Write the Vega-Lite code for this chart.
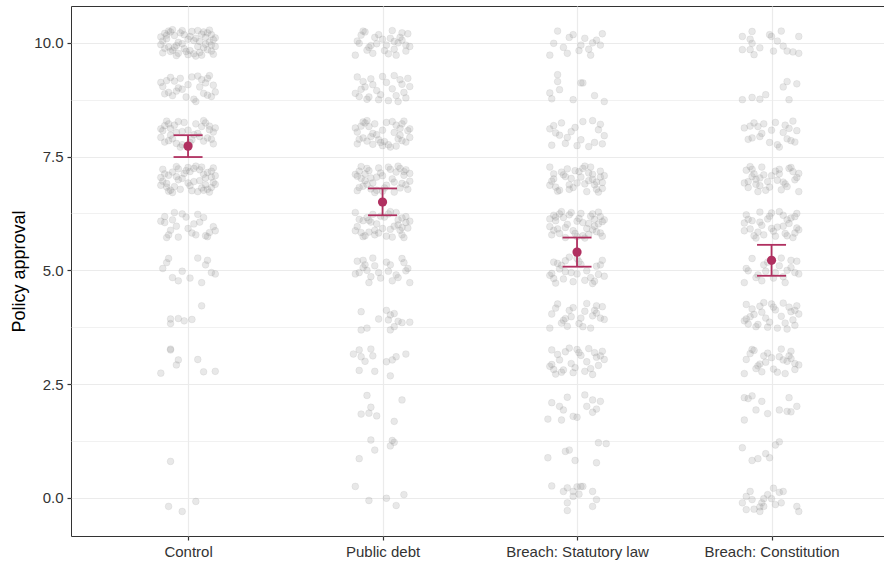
{
  "$schema": "https://vega.github.io/schema/vega-lite/v6.json",
  "autosize": {"type": "none"},
  "width": 813,
  "height": 530,
  "padding": {"left": 71, "top": 6, "right": 0, "bottom": 27},
  "background": "white",
  "config": {
    "view": {"stroke": "#333333", "strokeWidth": 1},
    "font": "Liberation Sans",
    "axis": {
      "labelFont": "Liberation Sans",
      "titleFont": "Liberation Sans",
      "labelColor": "#4d4d4d",
      "tickColor": "#333333",
      "gridColor": "#ebebeb",
      "gridWidth": 1.2,
      "domain": false
    }
  },
  "datasets": {
    "summ": [
      {"g": "C", "mean": 7.73, "lo": 7.49, "hi": 7.97},
      {"g": "P", "mean": 6.50, "lo": 6.21, "hi": 6.80},
      {"g": "S", "mean": 5.40, "lo": 5.08, "hi": 5.72},
      {"g": "K", "mean": 5.22, "lo": 4.88, "hi": 5.56}
    ],
    "pts": [
      {"g":"C","y":10.21,"j":-0.12},{"g":"C","y":9.92,"j":0.05},{"g":"C","y":10.27,"j":-0.03},{"g":"C","y":10.02,"j":0.11},{"g":"C","y":9.81,"j":-0.09},{"g":"C","y":9.75,"j":0.13},{"g":"C","y":10.14,"j":0.01},{"g":"C","y":9.96,"j":-0.14},
      {"g":"C","y":10.24,"j":0.08},{"g":"C","y":9.72,"j":-0.06},{"g":"C","y":10.05,"j":0.03},{"g":"C","y":10.18,"j":0.12},{"g":"C","y":10.09,"j":-0.11},{"g":"C","y":9.79,"j":0.06},{"g":"C","y":9.87,"j":-0.02},{"g":"C","y":10.11,"j":0.14},
      {"g":"C","y":10.29,"j":-0.08},{"g":"C","y":9.97,"j":0.09},{"g":"C","y":9.78,"j":-0.13},{"g":"C","y":9.74,"j":0},{"g":"C","y":10.19,"j":0.07},{"g":"C","y":10.01,"j":-0.05},{"g":"C","y":9.85,"j":0.10},{"g":"C","y":9.91,"j":-0.10},
      {"g":"C","y":10.25,"j":0.02},{"g":"C","y":10.16,"j":-0.07},{"g":"C","y":10.07,"j":0.13},{"g":"C","y":9.81,"j":-0.01},{"g":"C","y":9.71,"j":0.04},{"g":"C","y":9.88,"j":-0.12},{"g":"C","y":10.28,"j":0.11},{"g":"C","y":10.22,"j":-0.04},
      {"g":"C","y":9.89,"j":0.08},{"g":"C","y":10.13,"j":-0.14},{"g":"C","y":10.08,"j":0},{"g":"C","y":10.03,"j":0.06},{"g":"C","y":10.24,"j":-0.09},{"g":"C","y":9.82,"j":0.12},{"g":"C","y":9.94,"j":-0.06},{"g":"C","y":9.76,"j":0.03},
      {"g":"C","y":10.17,"j":-0.11},{"g":"C","y":10.12,"j":0.09},{"g":"C","y":9.98,"j":-0.03},{"g":"C","y":9.92,"j":0.14},{"g":"C","y":10.04,"j":-0.13},{"g":"C","y":10.27,"j":0.05},{"g":"C","y":9.84,"j":-0.08},{"g":"C","y":10.22,"j":0.10},
      {"g":"C","y":9.83,"j":0.01},{"g":"C","y":9.77,"j":-0.05},{"g":"C","y":9.73,"j":0.07},{"g":"C","y":10.26,"j":-0.10},{"g":"C","y":9.95,"j":0.12},{"g":"C","y":10.18,"j":-0.02},{"g":"C","y":10.10,"j":0.04},{"g":"C","y":9.90,"j":-0.07},

      {"g":"C","y":9.19,"j":0.07},{"g":"C","y":9.01,"j":-0.05},{"g":"C","y":8.85,"j":0.10},{"g":"C","y":8.91,"j":-0.10},{"g":"C","y":9.25,"j":0.02},{"g":"C","y":9.16,"j":-0.07},{"g":"C","y":9.07,"j":0.13},{"g":"C","y":8.81,"j":-0.01},
      {"g":"C","y":8.71,"j":0.04},{"g":"C","y":8.88,"j":-0.12},{"g":"C","y":9.28,"j":0.11},{"g":"C","y":9.22,"j":-0.04},{"g":"C","y":8.89,"j":0.08},{"g":"C","y":9.13,"j":-0.14},{"g":"C","y":9.08,"j":0},{"g":"C","y":9.03,"j":0.06},
      {"g":"C","y":9.24,"j":-0.09},{"g":"C","y":8.82,"j":0.12},{"g":"C","y":8.94,"j":-0.06},{"g":"C","y":8.76,"j":0.03},{"g":"C","y":9.17,"j":-0.11},{"g":"C","y":9.12,"j":0.09},{"g":"C","y":8.98,"j":-0.03},{"g":"C","y":8.92,"j":0.14},
      {"g":"C","y":9.04,"j":-0.13},{"g":"C","y":9.27,"j":0.05},{"g":"C","y":8.84,"j":-0.08},{"g":"C","y":9.22,"j":0.10},

      {"g":"C","y":8.05,"j":-0.03},{"g":"C","y":8.18,"j":-0.12},{"g":"C","y":8.09,"j":0.11},{"g":"C","y":7.79,"j":-0.06},{"g":"C","y":7.87,"j":0.02},{"g":"C","y":8.11,"j":-0.14},{"g":"C","y":8.29,"j":0.08},{"g":"C","y":7.97,"j":-0.09},
      {"g":"C","y":7.78,"j":0.13},{"g":"C","y":7.74,"j":0},{"g":"C","y":8.19,"j":-0.07},{"g":"C","y":8.01,"j":0.05},{"g":"C","y":7.85,"j":-0.10},{"g":"C","y":7.91,"j":0.10},{"g":"C","y":8.25,"j":-0.02},{"g":"C","y":8.16,"j":0.07},
      {"g":"C","y":8.07,"j":-0.13},{"g":"C","y":7.81,"j":0.01},{"g":"C","y":7.71,"j":-0.04},{"g":"C","y":7.88,"j":0.12},{"g":"C","y":8.28,"j":-0.11},{"g":"C","y":8.22,"j":0.04},{"g":"C","y":7.89,"j":-0.08},{"g":"C","y":8.13,"j":0.14},
      {"g":"C","y":8.08,"j":0},{"g":"C","y":8.03,"j":-0.06},{"g":"C","y":8.24,"j":0.09},{"g":"C","y":7.82,"j":-0.12},{"g":"C","y":7.94,"j":0.06},{"g":"C","y":7.76,"j":-0.03},{"g":"C","y":8.17,"j":0.11},{"g":"C","y":8.12,"j":-0.09},
      {"g":"C","y":7.98,"j":0.03},{"g":"C","y":7.92,"j":-0.14},{"g":"C","y":8.04,"j":0.13},{"g":"C","y":8.27,"j":-0.05},{"g":"C","y":7.84,"j":0.08},{"g":"C","y":8.22,"j":-0.10},

      {"g":"C","y":7.25,"j":0.13},{"g":"C","y":6.86,"j":0.01},{"g":"C","y":7.04,"j":-0.14},{"g":"C","y":6.76,"j":0.08},{"g":"C","y":7.28,"j":-0.06},{"g":"C","y":6.95,"j":0.03},{"g":"C","y":6.82,"j":0.12},{"g":"C","y":6.91,"j":-0.11},
      {"g":"C","y":7.21,"j":0.06},{"g":"C","y":7.13,"j":-0.02},{"g":"C","y":6.89,"j":0.14},{"g":"C","y":6.71,"j":-0.08},{"g":"C","y":7.03,"j":0.09},{"g":"C","y":7.22,"j":-0.13},{"g":"C","y":7.26,"j":0},{"g":"C","y":6.81,"j":0.07},
      {"g":"C","y":6.99,"j":-0.05},{"g":"C","y":7.15,"j":0.10},{"g":"C","y":7.09,"j":-0.10},{"g":"C","y":6.75,"j":0.02},{"g":"C","y":6.84,"j":-0.07},{"g":"C","y":6.93,"j":0.13},{"g":"C","y":7.19,"j":-0.01},{"g":"C","y":7.29,"j":0.04},
      {"g":"C","y":7.12,"j":-0.12},{"g":"C","y":6.72,"j":0.11},{"g":"C","y":6.78,"j":-0.04},{"g":"C","y":7.11,"j":0.08},{"g":"C","y":6.87,"j":-0.14},{"g":"C","y":6.92,"j":0},{"g":"C","y":6.97,"j":0.06},{"g":"C","y":6.76,"j":-0.09},
      {"g":"C","y":7.18,"j":0.12},{"g":"C","y":7.06,"j":-0.06},{"g":"C","y":7.24,"j":0.03},{"g":"C","y":6.83,"j":-0.11},{"g":"C","y":6.88,"j":0.09},{"g":"C","y":7.02,"j":-0.03},{"g":"C","y":7.08,"j":0.14},{"g":"C","y":6.96,"j":-0.13},
      {"g":"C","y":6.73,"j":0.05},{"g":"C","y":7.16,"j":-0.08},{"g":"C","y":6.78,"j":0.10},{"g":"C","y":7.17,"j":0.01},{"g":"C","y":7.23,"j":-0.05},{"g":"C","y":7.27,"j":0.07},{"g":"C","y":6.74,"j":-0.10},{"g":"C","y":7.05,"j":0.12},

      {"g":"C","y":5.72,"j":-0.11},{"g":"C","y":5.78,"j":0.04},{"g":"C","y":6.11,"j":-0.08},{"g":"C","y":5.87,"j":0.14},{"g":"C","y":5.92,"j":0},{"g":"C","y":5.97,"j":-0.06},{"g":"C","y":5.76,"j":0.09},{"g":"C","y":6.18,"j":-0.12},
      {"g":"C","y":6.06,"j":0.06},{"g":"C","y":6.24,"j":-0.03},{"g":"C","y":5.83,"j":0.11},{"g":"C","y":5.88,"j":-0.09},{"g":"C","y":6.02,"j":0.03},{"g":"C","y":6.08,"j":-0.14},{"g":"C","y":5.96,"j":0.13},{"g":"C","y":5.73,"j":-0.05},
      {"g":"C","y":6.16,"j":0.08},{"g":"C","y":5.78,"j":-0.10},{"g":"C","y":6.17,"j":-0.01},{"g":"C","y":6.23,"j":0.05},{"g":"C","y":6.27,"j":-0.07},{"g":"C","y":5.74,"j":0.10},{"g":"C","y":6.05,"j":-0.12},{"g":"C","y":5.82,"j":0.02},

      {"g":"C","y":5.17,"j":-0.11},{"g":"C","y":5.12,"j":0.09},{"g":"C","y":4.98,"j":-0.03},{"g":"C","y":4.92,"j":0.14},{"g":"C","y":5.04,"j":-0.13},{"g":"C","y":5.27,"j":0.05},{"g":"C","y":4.84,"j":-0.08},{"g":"C","y":5.22,"j":0.10},
      {"g":"C","y":4.83,"j":0.01},{"g":"C","y":4.77,"j":-0.05},{"g":"C","y":4.73,"j":0.07},{"g":"C","y":5.26,"j":-0.10},{"g":"C","y":4.95,"j":0.12},

      {"g":"C","y":4.22,"j":0.07},{"g":"C","y":3.93,"j":-0.09},{"g":"C","y":3.83,"j":-0.09},{"g":"C","y":3.94,"j":-0.05},{"g":"C","y":3.89,"j":-0.02},{"g":"C","y":3.92,"j":0.02},
      {"g":"C","y":3.27,"j":-0.09},{"g":"C","y":3.25,"j":-0.09},{"g":"C","y":3.03,"j":-0.05},{"g":"C","y":2.92,"j":-0.06},{"g":"C","y":3.04,"j":0.05},{"g":"C","y":2.74,"j":-0.14},{"g":"C","y":2.77,"j":0.08},{"g":"C","y":2.78,"j":0.14},
      {"g":"C","y":0.80,"j":-0.09},
      {"g":"C","y":-0.19,"j":-0.10},{"g":"C","y":-0.30,"j":-0.03},{"g":"C","y":-0.08,"j":0.04},

      {"g":"P","y":10.08,"j":0},{"g":"P","y":10.03,"j":0.06},{"g":"P","y":10.24,"j":-0.09},{"g":"P","y":9.82,"j":0.12},{"g":"P","y":9.94,"j":-0.06},{"g":"P","y":9.76,"j":0.03},{"g":"P","y":10.17,"j":-0.11},{"g":"P","y":10.12,"j":0.09},
      {"g":"P","y":9.98,"j":-0.03},{"g":"P","y":9.92,"j":0.14},{"g":"P","y":10.04,"j":-0.13},{"g":"P","y":10.27,"j":0.05},{"g":"P","y":9.84,"j":-0.08},{"g":"P","y":10.22,"j":0.10},{"g":"P","y":9.83,"j":0.01},{"g":"P","y":9.77,"j":-0.05},
      {"g":"P","y":9.73,"j":0.07},{"g":"P","y":10.26,"j":-0.10},{"g":"P","y":9.95,"j":0.12},{"g":"P","y":10.18,"j":-0.02},{"g":"P","y":10.10,"j":0.04},{"g":"P","y":9.90,"j":-0.07},{"g":"P","y":10.06,"j":0.10},{"g":"P","y":9.73,"j":-0.14},
      {"g":"P","y":10.00,"j":0.08},{"g":"P","y":10.12,"j":-0.04},{"g":"P","y":9.95,"j":0.02},{"g":"P","y":10.20,"j":0.13},{"g":"P","y":9.99,"j":-0.12},{"g":"P","y":9.86,"j":0.06},

      {"g":"P","y":8.79,"j":0.12},{"g":"P","y":9.08,"j":-0.05},{"g":"P","y":8.73,"j":0.03},{"g":"P","y":8.98,"j":-0.11},{"g":"P","y":9.19,"j":0.09},{"g":"P","y":9.25,"j":-0.13},{"g":"P","y":8.86,"j":-0.01},{"g":"P","y":9.04,"j":0.14},
      {"g":"P","y":8.76,"j":-0.08},{"g":"P","y":9.28,"j":0.06},{"g":"P","y":8.95,"j":-0.03},{"g":"P","y":8.82,"j":-0.12},{"g":"P","y":8.91,"j":0.11},{"g":"P","y":9.21,"j":-0.06},{"g":"P","y":9.13,"j":0.02},{"g":"P","y":8.89,"j":-0.14},
      {"g":"P","y":8.71,"j":0.08},{"g":"P","y":9.03,"j":-0.09},{"g":"P","y":9.22,"j":0.13},{"g":"P","y":9.26,"j":0},{"g":"P","y":8.81,"j":-0.07},{"g":"P","y":8.99,"j":0.05},{"g":"P","y":9.15,"j":-0.10},{"g":"P","y":9.09,"j":0.10},
      {"g":"P","y":8.75,"j":-0.02},{"g":"P","y":8.84,"j":0.07},

      {"g":"P","y":7.87,"j":-0.02},{"g":"P","y":8.11,"j":0.14},{"g":"P","y":8.29,"j":-0.08},{"g":"P","y":7.97,"j":0.09},{"g":"P","y":7.78,"j":-0.13},{"g":"P","y":7.74,"j":0},{"g":"P","y":8.19,"j":0.07},{"g":"P","y":8.01,"j":-0.05},
      {"g":"P","y":7.85,"j":0.10},{"g":"P","y":7.91,"j":-0.10},{"g":"P","y":8.25,"j":0.02},{"g":"P","y":8.16,"j":-0.07},{"g":"P","y":8.07,"j":0.13},{"g":"P","y":7.81,"j":-0.01},{"g":"P","y":7.71,"j":0.04},{"g":"P","y":7.88,"j":-0.12},
      {"g":"P","y":8.28,"j":0.11},{"g":"P","y":8.22,"j":-0.04},{"g":"P","y":7.89,"j":0.08},{"g":"P","y":8.13,"j":-0.14},{"g":"P","y":8.08,"j":0},{"g":"P","y":8.03,"j":0.06},{"g":"P","y":8.24,"j":-0.09},{"g":"P","y":7.82,"j":0.12},
      {"g":"P","y":7.94,"j":-0.06},{"g":"P","y":7.76,"j":0.03},{"g":"P","y":8.17,"j":-0.11},{"g":"P","y":8.12,"j":0.09},{"g":"P","y":7.98,"j":-0.03},{"g":"P","y":7.92,"j":0.14},{"g":"P","y":8.04,"j":-0.13},{"g":"P","y":8.27,"j":0.05},
      {"g":"P","y":7.84,"j":-0.08},{"g":"P","y":8.22,"j":0.10},{"g":"P","y":7.83,"j":0.01},{"g":"P","y":7.77,"j":-0.05},{"g":"P","y":7.73,"j":0.07},{"g":"P","y":8.26,"j":-0.10},

      {"g":"P","y":7.21,"j":0.12},{"g":"P","y":6.92,"j":-0.05},{"g":"P","y":7.27,"j":0.03},{"g":"P","y":7.02,"j":-0.11},{"g":"P","y":6.81,"j":0.09},{"g":"P","y":6.75,"j":-0.13},{"g":"P","y":7.14,"j":-0.01},{"g":"P","y":6.96,"j":0.14},
      {"g":"P","y":7.24,"j":-0.08},{"g":"P","y":6.72,"j":0.06},{"g":"P","y":7.05,"j":-0.03},{"g":"P","y":7.18,"j":-0.12},{"g":"P","y":7.09,"j":0.11},{"g":"P","y":6.79,"j":-0.06},{"g":"P","y":6.87,"j":0.02},{"g":"P","y":7.11,"j":-0.14},
      {"g":"P","y":7.29,"j":0.08},{"g":"P","y":6.97,"j":-0.09},{"g":"P","y":6.78,"j":0.13},{"g":"P","y":6.74,"j":0},{"g":"P","y":7.19,"j":-0.07},{"g":"P","y":7.01,"j":0.05},{"g":"P","y":6.85,"j":-0.10},{"g":"P","y":6.91,"j":0.10},
      {"g":"P","y":7.25,"j":-0.02},{"g":"P","y":7.16,"j":0.07},{"g":"P","y":7.07,"j":-0.13},{"g":"P","y":6.81,"j":0.01},{"g":"P","y":6.71,"j":-0.04},{"g":"P","y":6.88,"j":0.12},{"g":"P","y":7.28,"j":-0.11},{"g":"P","y":7.22,"j":0.04},
      {"g":"P","y":6.89,"j":-0.08},{"g":"P","y":7.13,"j":0.14},{"g":"P","y":7.08,"j":0},{"g":"P","y":7.03,"j":-0.06},{"g":"P","y":7.24,"j":0.09},{"g":"P","y":6.82,"j":-0.12},{"g":"P","y":6.94,"j":0.06},{"g":"P","y":6.76,"j":-0.03},
      {"g":"P","y":7.17,"j":0.11},{"g":"P","y":7.12,"j":-0.09},

      {"g":"P","y":6.15,"j":0.10},{"g":"P","y":6.09,"j":-0.10},{"g":"P","y":5.75,"j":0.02},{"g":"P","y":5.84,"j":-0.07},{"g":"P","y":5.93,"j":0.13},{"g":"P","y":6.19,"j":-0.01},{"g":"P","y":6.29,"j":0.04},{"g":"P","y":6.12,"j":-0.12},
      {"g":"P","y":5.72,"j":0.11},{"g":"P","y":5.78,"j":-0.04},{"g":"P","y":6.11,"j":0.08},{"g":"P","y":5.87,"j":-0.14},{"g":"P","y":5.92,"j":0},{"g":"P","y":5.97,"j":0.06},{"g":"P","y":5.76,"j":-0.09},{"g":"P","y":6.18,"j":0.12},
      {"g":"P","y":6.06,"j":-0.06},{"g":"P","y":6.24,"j":0.03},{"g":"P","y":5.83,"j":-0.11},{"g":"P","y":5.88,"j":0.09},{"g":"P","y":6.02,"j":-0.03},{"g":"P","y":6.08,"j":0.14},{"g":"P","y":5.96,"j":-0.13},{"g":"P","y":5.73,"j":0.05},
      {"g":"P","y":6.16,"j":-0.08},{"g":"P","y":5.78,"j":0.10},{"g":"P","y":6.17,"j":0.01},{"g":"P","y":6.23,"j":-0.05},{"g":"P","y":6.27,"j":0.07},{"g":"P","y":5.74,"j":-0.10},{"g":"P","y":6.05,"j":0.12},{"g":"P","y":5.82,"j":-0.02},
      {"g":"P","y":5.90,"j":0.04},{"g":"P","y":6.10,"j":-0.07},{"g":"P","y":5.94,"j":0.10},{"g":"P","y":6.27,"j":-0.14},{"g":"P","y":6.00,"j":0.08},{"g":"P","y":5.88,"j":-0.04},

      {"g":"P","y":5.17,"j":0.11},{"g":"P","y":5.12,"j":-0.09},{"g":"P","y":4.98,"j":0.03},{"g":"P","y":4.92,"j":-0.14},{"g":"P","y":5.04,"j":0.13},{"g":"P","y":5.27,"j":-0.05},{"g":"P","y":4.84,"j":0.08},{"g":"P","y":5.22,"j":-0.10},
      {"g":"P","y":4.83,"j":-0.01},{"g":"P","y":4.77,"j":0.05},{"g":"P","y":4.73,"j":-0.07},{"g":"P","y":5.26,"j":0.10},{"g":"P","y":4.95,"j":-0.12},{"g":"P","y":5.18,"j":0.02},{"g":"P","y":5.10,"j":-0.04},{"g":"P","y":4.90,"j":0.07},
      {"g":"P","y":5.06,"j":-0.10},{"g":"P","y":4.73,"j":0.14},{"g":"P","y":5.00,"j":-0.08},{"g":"P","y":5.12,"j":0.04},{"g":"P","y":4.95,"j":-0.02},{"g":"P","y":5.20,"j":-0.13},{"g":"P","y":4.99,"j":0.12},{"g":"P","y":4.86,"j":-0.06},

      {"g":"P","y":4.09,"j":-0.11},{"g":"P","y":4.12,"j":0.02},{"g":"P","y":4.02,"j":0.04},{"g":"P","y":3.93,"j":-0.02},{"g":"P","y":3.91,"j":0.03},{"g":"P","y":4.05,"j":0.06},{"g":"P","y":3.88,"j":0.08},{"g":"P","y":3.85,"j":0.10},
      {"g":"P","y":3.86,"j":0.14},{"g":"P","y":3.69,"j":-0.11},{"g":"P","y":3.73,"j":-0.08},{"g":"P","y":3.69,"j":0.04},{"g":"P","y":3.76,"j":0.06},
      {"g":"P","y":3.16,"j":-0.15},{"g":"P","y":3.25,"j":-0.12},{"g":"P","y":3.10,"j":-0.11},{"g":"P","y":3.27,"j":-0.06},{"g":"P","y":3.12,"j":-0.05},{"g":"P","y":3.00,"j":-0.09},{"g":"P","y":2.80,"j":-0.12},{"g":"P","y":2.78,"j":-0.04},
      {"g":"P","y":2.99,"j":0.02},{"g":"P","y":2.68,"j":0.04},{"g":"P","y":3.10,"j":0.07},{"g":"P","y":3.16,"j":0.12},{"g":"P","y":3.03,"j":0.05},
      {"g":"P","y":2.25,"j":-0.08},{"g":"P","y":2.15,"j":0.10},{"g":"P","y":1.99,"j":-0.06},{"g":"P","y":1.84,"j":-0.11},{"g":"P","y":1.86,"j":-0.07},{"g":"P","y":1.80,"j":-0.03},{"g":"P","y":1.68,"j":0.06},
      {"g":"P","y":1.27,"j":-0.06},{"g":"P","y":1.26,"j":0.05},{"g":"P","y":1.22,"j":0.06},{"g":"P","y":1.05,"j":-0.04},{"g":"P","y":1.14,"j":0.04},{"g":"P","y":0.86,"j":-0.12},
      {"g":"P","y":0.25,"j":-0.14},{"g":"P","y":-0.06,"j":-0.07},{"g":"P","y":-0.01,"j":0.02},{"g":"P","y":-0.17,"j":0.07},{"g":"P","y":0.07,"j":0.11},

      {"g":"S","y":9.83,"j":0.01},{"g":"S","y":9.77,"j":-0.05},{"g":"S","y":9.73,"j":0.07},{"g":"S","y":10.26,"j":-0.10},{"g":"S","y":9.95,"j":0.12},{"g":"S","y":10.18,"j":-0.02},{"g":"S","y":10.10,"j":0.04},{"g":"S","y":9.90,"j":-0.07},
      {"g":"S","y":10.06,"j":0.10},{"g":"S","y":9.73,"j":-0.14},{"g":"S","y":10.00,"j":0.08},{"g":"S","y":10.12,"j":-0.04},{"g":"S","y":9.95,"j":0.02},{"g":"S","y":10.20,"j":0.13},{"g":"S","y":9.99,"j":-0.12},{"g":"S","y":9.86,"j":0.06},
      {"g":"S","y":9.30,"j":-0.10},{"g":"S","y":9.15,"j":-0.10},{"g":"S","y":8.97,"j":-0.09},{"g":"S","y":8.90,"j":-0.14},{"g":"S","y":8.77,"j":-0.13},{"g":"S","y":8.75,"j":-0.02},{"g":"S","y":9.12,"j":0.02},{"g":"S","y":9.12,"j":0.03},
      {"g":"S","y":8.84,"j":0.09},{"g":"S","y":8.71,"j":0.14},

      {"g":"S","y":8.21,"j":0.12},{"g":"S","y":7.92,"j":-0.05},{"g":"S","y":8.27,"j":0.03},{"g":"S","y":8.02,"j":-0.11},{"g":"S","y":7.81,"j":0.09},{"g":"S","y":7.75,"j":-0.13},{"g":"S","y":8.14,"j":-0.01},{"g":"S","y":7.96,"j":0.14},
      {"g":"S","y":8.24,"j":-0.08},{"g":"S","y":7.72,"j":0.06},{"g":"S","y":8.05,"j":-0.03},{"g":"S","y":8.18,"j":-0.12},{"g":"S","y":8.09,"j":0.11},{"g":"S","y":7.79,"j":-0.06},{"g":"S","y":7.87,"j":0.02},{"g":"S","y":8.11,"j":-0.14},
      {"g":"S","y":8.29,"j":0.08},{"g":"S","y":7.97,"j":-0.09},{"g":"S","y":7.78,"j":0.13},{"g":"S","y":7.74,"j":0},

      {"g":"S","y":6.93,"j":0.13},{"g":"S","y":7.19,"j":-0.01},{"g":"S","y":7.29,"j":0.04},{"g":"S","y":7.12,"j":-0.12},{"g":"S","y":6.72,"j":0.11},{"g":"S","y":6.78,"j":-0.04},{"g":"S","y":7.11,"j":0.08},{"g":"S","y":6.87,"j":-0.14},
      {"g":"S","y":6.92,"j":0},{"g":"S","y":6.97,"j":0.06},{"g":"S","y":6.76,"j":-0.09},{"g":"S","y":7.18,"j":0.12},{"g":"S","y":7.06,"j":-0.06},{"g":"S","y":7.24,"j":0.03},{"g":"S","y":6.83,"j":-0.11},{"g":"S","y":6.88,"j":0.09},
      {"g":"S","y":7.02,"j":-0.03},{"g":"S","y":7.08,"j":0.14},{"g":"S","y":6.96,"j":-0.13},{"g":"S","y":6.73,"j":0.05},{"g":"S","y":7.16,"j":-0.08},{"g":"S","y":6.78,"j":0.10},{"g":"S","y":7.17,"j":0.01},{"g":"S","y":7.23,"j":-0.05},
      {"g":"S","y":7.27,"j":0.07},{"g":"S","y":6.74,"j":-0.10},{"g":"S","y":7.05,"j":0.12},{"g":"S","y":6.82,"j":-0.02},{"g":"S","y":6.90,"j":0.04},{"g":"S","y":7.10,"j":-0.07},{"g":"S","y":6.94,"j":0.10},{"g":"S","y":7.27,"j":-0.14},
      {"g":"S","y":7.00,"j":0.08},{"g":"S","y":6.88,"j":-0.04},{"g":"S","y":7.05,"j":0.02},{"g":"S","y":6.80,"j":0.13},{"g":"S","y":7.01,"j":-0.12},{"g":"S","y":7.14,"j":0.06},

      {"g":"S","y":6.21,"j":-0.12},{"g":"S","y":5.92,"j":0.05},{"g":"S","y":6.27,"j":-0.03},{"g":"S","y":6.02,"j":0.11},{"g":"S","y":5.81,"j":-0.09},{"g":"S","y":5.75,"j":0.13},{"g":"S","y":6.14,"j":0.01},{"g":"S","y":5.96,"j":-0.14},
      {"g":"S","y":6.24,"j":0.08},{"g":"S","y":5.72,"j":-0.06},{"g":"S","y":6.05,"j":0.03},{"g":"S","y":6.18,"j":0.12},{"g":"S","y":6.09,"j":-0.11},{"g":"S","y":5.79,"j":0.06},{"g":"S","y":5.87,"j":-0.02},{"g":"S","y":6.11,"j":0.14},
      {"g":"S","y":6.29,"j":-0.08},{"g":"S","y":5.97,"j":0.09},{"g":"S","y":5.78,"j":-0.13},{"g":"S","y":5.74,"j":0},{"g":"S","y":6.19,"j":0.07},{"g":"S","y":6.01,"j":-0.05},{"g":"S","y":5.85,"j":0.10},{"g":"S","y":5.91,"j":-0.10},
      {"g":"S","y":6.25,"j":0.02},{"g":"S","y":6.16,"j":-0.07},{"g":"S","y":6.07,"j":0.13},{"g":"S","y":5.81,"j":-0.01},{"g":"S","y":5.71,"j":0.04},{"g":"S","y":5.88,"j":-0.12},{"g":"S","y":6.28,"j":0.11},{"g":"S","y":6.22,"j":-0.04},
      {"g":"S","y":5.89,"j":0.08},{"g":"S","y":6.13,"j":-0.14},{"g":"S","y":6.08,"j":0},{"g":"S","y":6.03,"j":0.06},{"g":"S","y":6.24,"j":-0.09},{"g":"S","y":5.82,"j":0.12},{"g":"S","y":5.94,"j":-0.06},{"g":"S","y":5.76,"j":0.03},
      {"g":"S","y":6.17,"j":-0.11},{"g":"S","y":6.12,"j":0.09},

      {"g":"S","y":4.95,"j":-0.03},{"g":"S","y":4.82,"j":-0.12},{"g":"S","y":4.91,"j":0.11},{"g":"S","y":5.21,"j":-0.06},{"g":"S","y":5.13,"j":0.02},{"g":"S","y":4.89,"j":-0.14},{"g":"S","y":4.71,"j":0.08},{"g":"S","y":5.03,"j":-0.09},
      {"g":"S","y":5.22,"j":0.13},{"g":"S","y":5.26,"j":0},{"g":"S","y":4.81,"j":-0.07},{"g":"S","y":4.99,"j":0.05},{"g":"S","y":5.15,"j":-0.10},{"g":"S","y":5.09,"j":0.10},{"g":"S","y":4.75,"j":-0.02},{"g":"S","y":4.84,"j":0.07},
      {"g":"S","y":4.93,"j":-0.13},{"g":"S","y":5.19,"j":0.01},{"g":"S","y":5.29,"j":-0.04},{"g":"S","y":5.12,"j":0.12},{"g":"S","y":4.72,"j":-0.11},{"g":"S","y":4.78,"j":0.04},{"g":"S","y":5.11,"j":-0.08},{"g":"S","y":4.87,"j":0.14},
      {"g":"S","y":4.92,"j":0},{"g":"S","y":4.97,"j":-0.06},{"g":"S","y":4.76,"j":0.09},{"g":"S","y":5.18,"j":-0.12},

      {"g":"S","y":3.94,"j":-0.06},{"g":"S","y":3.76,"j":0.03},{"g":"S","y":4.17,"j":-0.11},{"g":"S","y":4.12,"j":0.09},{"g":"S","y":3.98,"j":-0.03},{"g":"S","y":3.92,"j":0.14},{"g":"S","y":4.04,"j":-0.13},{"g":"S","y":4.27,"j":0.05},
      {"g":"S","y":3.84,"j":-0.08},{"g":"S","y":4.22,"j":0.10},{"g":"S","y":3.83,"j":0.01},{"g":"S","y":3.77,"j":-0.05},{"g":"S","y":3.73,"j":0.07},{"g":"S","y":4.26,"j":-0.10},{"g":"S","y":3.95,"j":0.12},{"g":"S","y":4.18,"j":-0.02},
      {"g":"S","y":4.10,"j":0.04},{"g":"S","y":3.90,"j":-0.07},{"g":"S","y":4.06,"j":0.10},{"g":"S","y":3.73,"j":-0.14},{"g":"S","y":4.00,"j":0.08},{"g":"S","y":4.12,"j":-0.04},{"g":"S","y":3.95,"j":0.02},{"g":"S","y":4.20,"j":0.13},

      {"g":"S","y":3.19,"j":0.09},{"g":"S","y":3.25,"j":-0.13},{"g":"S","y":2.86,"j":-0.01},{"g":"S","y":3.04,"j":0.14},{"g":"S","y":2.76,"j":-0.08},{"g":"S","y":3.28,"j":0.06},{"g":"S","y":2.95,"j":-0.03},{"g":"S","y":2.82,"j":-0.12},
      {"g":"S","y":2.91,"j":0.11},{"g":"S","y":3.21,"j":-0.06},{"g":"S","y":3.13,"j":0.02},{"g":"S","y":2.89,"j":-0.14},{"g":"S","y":2.71,"j":0.08},{"g":"S","y":3.03,"j":-0.09},{"g":"S","y":3.22,"j":0.13},{"g":"S","y":3.26,"j":0},
      {"g":"S","y":2.81,"j":-0.07},{"g":"S","y":2.99,"j":0.05},{"g":"S","y":3.15,"j":-0.10},{"g":"S","y":3.09,"j":0.10},{"g":"S","y":2.75,"j":-0.02},{"g":"S","y":2.84,"j":0.07},{"g":"S","y":2.93,"j":-0.13},{"g":"S","y":3.19,"j":0.01},
      {"g":"S","y":3.29,"j":-0.04},{"g":"S","y":3.12,"j":0.12},{"g":"S","y":2.72,"j":-0.11},{"g":"S","y":2.78,"j":0.04},

      {"g":"S","y":2.09,"j":-0.13},{"g":"S","y":2.01,"j":-0.09},{"g":"S","y":1.93,"j":-0.07},{"g":"S","y":1.73,"j":-0.15},{"g":"S","y":1.71,"j":-0.08},{"g":"S","y":1.79,"j":-0.02},{"g":"S","y":1.77,"j":0},{"g":"S","y":2.26,"j":0.04},
      {"g":"S","y":2.01,"j":0.05},{"g":"S","y":2.15,"j":0.08},{"g":"S","y":2.12,"j":0.12},{"g":"S","y":1.88,"j":0.08},{"g":"S","y":2.21,"j":-0.05},{"g":"S","y":1.95,"j":0.10},
      {"g":"S","y":1.02,"j":-0.06},{"g":"S","y":1.05,"j":-0.04},{"g":"S","y":0.82,"j":-0.01},{"g":"S","y":0.88,"j":-0.15},{"g":"S","y":1.21,"j":0.11},{"g":"S","y":1.19,"j":0.15},{"g":"S","y":0.77,"j":0.10},
      {"g":"S","y":0.26,"j":-0.13},{"g":"S","y":0.14,"j":-0.07},{"g":"S","y":0.22,"j":-0.05},{"g":"S","y":0.14,"j":-0.02},{"g":"S","y":0.24,"j":0},{"g":"S","y":0.25,"j":0.03},{"g":"S","y":0.03,"j":-0.02},{"g":"S","y":-0.11,"j":-0.05},
      {"g":"S","y":-0.28,"j":-0.05},{"g":"S","y":0.25,"j":0.02},{"g":"S","y":0.14,"j":0.08},{"g":"S","y":-0.04,"j":0.10},{"g":"S","y":-0.19,"j":0.08},{"g":"S","y":0.08,"j":0.01},

      {"g":"K","y":10.14,"j":-0.15},{"g":"K","y":10.25,"j":-0.10},{"g":"K","y":10.08,"j":-0.11},{"g":"K","y":9.99,"j":-0.10},{"g":"K","y":10.18,"j":-0.01},{"g":"K","y":10.14,"j":0},{"g":"K","y":10.26,"j":0.05},{"g":"K","y":10.04,"j":0.03},
      {"g":"K","y":9.93,"j":0.06},{"g":"K","y":9.82,"j":0.08},{"g":"K","y":9.80,"j":0.11},{"g":"K","y":9.77,"j":0.14},{"g":"K","y":10.14,"j":0.14},{"g":"K","y":9.85,"j":-0.15},{"g":"K","y":9.85,"j":-0.11},{"g":"K","y":9.74,"j":-0.09},
      {"g":"K","y":9.89,"j":-0.06},{"g":"K","y":9.82,"j":0.01},
      {"g":"K","y":9.15,"j":0.08},{"g":"K","y":9.03,"j":0.06},{"g":"K","y":9.10,"j":0.13},{"g":"K","y":8.75,"j":-0.15},{"g":"K","y":8.80,"j":-0.10},{"g":"K","y":8.76,"j":-0.06},{"g":"K","y":8.86,"j":-0.03},{"g":"K","y":8.75,"j":0.09},

      {"g":"K","y":8.19,"j":0.07},{"g":"K","y":8.01,"j":-0.05},{"g":"K","y":7.85,"j":0.10},{"g":"K","y":7.91,"j":-0.10},{"g":"K","y":8.25,"j":0.02},{"g":"K","y":8.16,"j":-0.07},{"g":"K","y":8.07,"j":0.13},{"g":"K","y":7.81,"j":-0.01},
      {"g":"K","y":7.71,"j":0.04},{"g":"K","y":7.88,"j":-0.12},{"g":"K","y":8.28,"j":0.11},{"g":"K","y":8.22,"j":-0.04},{"g":"K","y":7.89,"j":0.08},{"g":"K","y":8.13,"j":-0.14},{"g":"K","y":8.08,"j":0},{"g":"K","y":8.03,"j":0.06},
      {"g":"K","y":8.24,"j":-0.09},{"g":"K","y":7.82,"j":0.12},{"g":"K","y":7.94,"j":-0.06},{"g":"K","y":7.76,"j":0.03},{"g":"K","y":8.17,"j":-0.11},{"g":"K","y":8.12,"j":0.09},

      {"g":"K","y":7.28,"j":-0.11},{"g":"K","y":7.22,"j":0.04},{"g":"K","y":6.89,"j":-0.08},{"g":"K","y":7.13,"j":0.14},{"g":"K","y":7.08,"j":0},{"g":"K","y":7.03,"j":-0.06},{"g":"K","y":7.24,"j":0.09},{"g":"K","y":6.82,"j":-0.12},
      {"g":"K","y":6.94,"j":0.06},{"g":"K","y":6.76,"j":-0.03},{"g":"K","y":7.17,"j":0.11},{"g":"K","y":7.12,"j":-0.09},{"g":"K","y":6.98,"j":0.03},{"g":"K","y":6.92,"j":-0.14},{"g":"K","y":7.04,"j":0.13},{"g":"K","y":7.27,"j":-0.05},
      {"g":"K","y":6.84,"j":0.08},{"g":"K","y":7.22,"j":-0.10},{"g":"K","y":6.83,"j":-0.01},{"g":"K","y":6.77,"j":0.05},{"g":"K","y":6.73,"j":-0.07},{"g":"K","y":7.26,"j":0.10},{"g":"K","y":6.95,"j":-0.12},{"g":"K","y":7.18,"j":0.02},
      {"g":"K","y":7.10,"j":-0.04},{"g":"K","y":6.90,"j":0.07},{"g":"K","y":7.06,"j":-0.10},{"g":"K","y":6.73,"j":0.14},{"g":"K","y":7.00,"j":-0.08},{"g":"K","y":7.12,"j":0.04},{"g":"K","y":6.95,"j":-0.02},{"g":"K","y":7.20,"j":-0.13},
      {"g":"K","y":6.99,"j":0.12},{"g":"K","y":6.86,"j":-0.06},

      {"g":"K","y":6.25,"j":0.13},{"g":"K","y":5.86,"j":0.01},{"g":"K","y":6.04,"j":-0.14},{"g":"K","y":5.76,"j":0.08},{"g":"K","y":6.28,"j":-0.06},{"g":"K","y":5.95,"j":0.03},{"g":"K","y":5.82,"j":0.12},{"g":"K","y":5.91,"j":-0.11},
      {"g":"K","y":6.21,"j":0.06},{"g":"K","y":6.13,"j":-0.02},{"g":"K","y":5.89,"j":0.14},{"g":"K","y":5.71,"j":-0.08},{"g":"K","y":6.03,"j":0.09},{"g":"K","y":6.22,"j":-0.13},{"g":"K","y":6.26,"j":0},{"g":"K","y":5.81,"j":0.07},
      {"g":"K","y":5.99,"j":-0.05},{"g":"K","y":6.15,"j":0.10},{"g":"K","y":6.09,"j":-0.10},{"g":"K","y":5.75,"j":0.02},{"g":"K","y":5.84,"j":-0.07},{"g":"K","y":5.93,"j":0.13},{"g":"K","y":6.19,"j":-0.01},{"g":"K","y":6.29,"j":0.04},
      {"g":"K","y":6.12,"j":-0.12},{"g":"K","y":5.72,"j":0.11},{"g":"K","y":5.78,"j":-0.04},{"g":"K","y":6.11,"j":0.08},{"g":"K","y":5.87,"j":-0.14},{"g":"K","y":5.92,"j":0},{"g":"K","y":5.97,"j":0.06},{"g":"K","y":5.76,"j":-0.09},
      {"g":"K","y":6.18,"j":0.12},{"g":"K","y":6.06,"j":-0.06},

      {"g":"K","y":4.98,"j":-0.03},{"g":"K","y":4.92,"j":0.14},{"g":"K","y":5.04,"j":-0.13},{"g":"K","y":5.27,"j":0.05},{"g":"K","y":4.84,"j":-0.08},{"g":"K","y":5.22,"j":0.10},{"g":"K","y":4.83,"j":0.01},{"g":"K","y":4.77,"j":-0.05},
      {"g":"K","y":4.73,"j":0.07},{"g":"K","y":5.26,"j":-0.10},{"g":"K","y":4.95,"j":0.12},{"g":"K","y":5.18,"j":-0.02},{"g":"K","y":5.10,"j":0.04},{"g":"K","y":4.90,"j":-0.07},{"g":"K","y":5.06,"j":0.10},{"g":"K","y":4.73,"j":-0.14},
      {"g":"K","y":5.00,"j":0.08},{"g":"K","y":5.12,"j":-0.04},{"g":"K","y":4.95,"j":0.02},{"g":"K","y":5.20,"j":0.13},{"g":"K","y":4.99,"j":-0.12},{"g":"K","y":4.86,"j":0.06},

      {"g":"K","y":3.79,"j":0.12},{"g":"K","y":4.08,"j":-0.05},{"g":"K","y":3.73,"j":0.03},{"g":"K","y":3.98,"j":-0.11},{"g":"K","y":4.19,"j":0.09},{"g":"K","y":4.25,"j":-0.13},{"g":"K","y":3.86,"j":-0.01},{"g":"K","y":4.04,"j":0.14},
      {"g":"K","y":3.76,"j":-0.08},{"g":"K","y":4.28,"j":0.06},{"g":"K","y":3.95,"j":-0.03},{"g":"K","y":3.82,"j":-0.12},{"g":"K","y":3.91,"j":0.11},{"g":"K","y":4.21,"j":-0.06},{"g":"K","y":4.13,"j":0.02},{"g":"K","y":3.89,"j":-0.14},
      {"g":"K","y":3.71,"j":0.08},{"g":"K","y":4.03,"j":-0.09},{"g":"K","y":4.22,"j":0.13},{"g":"K","y":4.26,"j":0},{"g":"K","y":3.81,"j":-0.07},{"g":"K","y":3.99,"j":0.05},{"g":"K","y":4.15,"j":-0.10},{"g":"K","y":4.09,"j":0.10},
      {"g":"K","y":3.75,"j":-0.02},{"g":"K","y":3.84,"j":0.07},{"g":"K","y":3.93,"j":-0.13},{"g":"K","y":4.19,"j":0.01},{"g":"K","y":4.29,"j":-0.04},{"g":"K","y":4.12,"j":0.12},

      {"g":"K","y":3.08,"j":0},{"g":"K","y":3.03,"j":0.06},{"g":"K","y":3.24,"j":-0.09},{"g":"K","y":2.82,"j":0.12},{"g":"K","y":2.94,"j":-0.06},{"g":"K","y":2.76,"j":0.03},{"g":"K","y":3.17,"j":-0.11},{"g":"K","y":3.12,"j":0.09},
      {"g":"K","y":2.98,"j":-0.03},{"g":"K","y":2.92,"j":0.14},{"g":"K","y":3.04,"j":-0.13},{"g":"K","y":3.27,"j":0.05},{"g":"K","y":2.84,"j":-0.08},{"g":"K","y":3.22,"j":0.10},{"g":"K","y":2.83,"j":0.01},{"g":"K","y":2.77,"j":-0.05},
      {"g":"K","y":2.73,"j":0.07},{"g":"K","y":3.26,"j":-0.10},{"g":"K","y":2.95,"j":0.12},{"g":"K","y":3.18,"j":-0.02},{"g":"K","y":3.10,"j":0.04},{"g":"K","y":2.90,"j":-0.07},{"g":"K","y":3.06,"j":0.10},{"g":"K","y":2.73,"j":-0.14},
      {"g":"K","y":3.00,"j":0.08},{"g":"K","y":3.12,"j":-0.04},

      {"g":"K","y":2.20,"j":-0.14},{"g":"K","y":2.24,"j":-0.10},{"g":"K","y":2.18,"j":-0.12},{"g":"K","y":2.12,"j":-0.05},{"g":"K","y":1.93,"j":0.04},{"g":"K","y":1.90,"j":0.08},{"g":"K","y":1.89,"j":0.10},{"g":"K","y":2.20,"j":0.09},
      {"g":"K","y":2.01,"j":0.13},{"g":"K","y":1.85,"j":-0.02},{"g":"K","y":1.71,"j":-0.14},{"g":"K","y":1.93,"j":-0.08},
      {"g":"K","y":1.10,"j":-0.15},{"g":"K","y":0.82,"j":-0.10},{"g":"K","y":0.86,"j":-0.07},{"g":"K","y":0.97,"j":-0.03},{"g":"K","y":0.88,"j":-0.01},{"g":"K","y":1.16,"j":0.02},{"g":"K","y":1.23,"j":0.04},
      {"g":"K","y":0.03,"j":-0.13},{"g":"K","y":0.14,"j":-0.11},{"g":"K","y":-0.04,"j":-0.10},{"g":"K","y":-0.11,"j":-0.15},{"g":"K","y":-0.26,"j":-0.13},{"g":"K","y":-0.25,"j":-0.09},{"g":"K","y":-0.20,"j":-0.06},{"g":"K","y":-0.11,"j":-0.05},
      {"g":"K","y":-0.02,"j":-0.04},{"g":"K","y":0.07,"j":-0.02},{"g":"K","y":0.21,"j":0.01},{"g":"K","y":0.12,"j":0.04},{"g":"K","y":0.14,"j":0.06},{"g":"K","y":-0.11,"j":0.05},{"g":"K","y":-0.15,"j":0.02},{"g":"K","y":-0.19,"j":0.13},
      {"g":"K","y":-0.30,"j":0.14},{"g":"K","y":-0.30,"j":-0.06},{"g":"K","y":-0.19,"j":-0.04},{"g":"K","y":-0.02,"j":0}
    ]
  },
  "encoding": {
    "x": {
      "field": "g",
      "type": "nominal",
      "sort": ["C", "P", "S", "K"],
      "scale": {"type": "point", "domain": ["C", "P", "S", "K"], "padding": 0.59, "align": 0.51},
      "axis": {
        "title": null,
        "labelAngle": 0,
        "labelFontSize": 15,
        "labelColor": "#333333",
        "labelPadding": 4,
        "tickSize": 4,
        "tickWidth": 1.2,
        "grid": true,
        "labelExpr": "datum.value == 'C' ? 'Control' : datum.value == 'P' ? 'Public debt' : datum.value == 'S' ? 'Breach: Statutory law' : 'Breach: Constitution'"
      }
    }
  },
  "layer": [
    {
      "data": {"name": "pts"},
      "mark": {"type": "circle", "size": 46, "color": "#8c8c8c", "fillOpacity": 0.2, "stroke": "#8c8c8c", "strokeOpacity": 0.12, "strokeWidth": 1},
      "encoding": {
        "xOffset": {"field": "j", "type": "quantitative", "scale": {"domain": [-1, 1], "range": [-194.5, 194.5]}},
        "y": {
          "field": "y",
          "type": "quantitative",
          "scale": {"domain": [-0.84, 10.81], "nice": false, "zero": false},
          "axis": {
            "title": "Policy approval",
            "titleFontSize": 18,
            "titleFontWeight": "normal",
            "titleColor": "#000000",
            "titlePadding": 5,
            "values": [0, 2.5, 5, 7.5, 10],
            "format": ".1f",
            "labelFontSize": 15,
            "labelColor": "#333333",
            "labelPadding": 4,
            "tickSize": 4,
            "tickWidth": 1.2,
            "grid": true
          }
        }
      }
    },
    {
      "data": {"name": "summ"},
      "mark": {"type": "rule", "color": "#B03060", "strokeWidth": 1.8},
      "encoding": {
        "y": {
          "field": "lo",
          "type": "quantitative",
          "scale": {"domain": [-0.84, 10.81], "nice": false, "zero": false},
          "axis": {"orient": "left", "values": [1.25, 3.75, 6.25, 8.75], "grid": true, "gridWidth": 0.7, "labels": false, "ticks": false, "domain": false, "title": null}
        },
        "y2": {"field": "hi"}
      }
    },
    {
      "data": {"name": "summ"},
      "mark": {"type": "tick", "color": "#B03060", "opacity": 1, "thickness": 1.8, "size": 29},
      "encoding": {
        "y": {"field": "lo", "type": "quantitative", "scale": {"domain": [-0.84, 10.81], "nice": false, "zero": false}, "axis": null}
      }
    },
    {
      "data": {"name": "summ"},
      "mark": {"type": "tick", "color": "#B03060", "opacity": 1, "thickness": 1.8, "size": 29},
      "encoding": {
        "y": {"field": "hi", "type": "quantitative", "scale": {"domain": [-0.84, 10.81], "nice": false, "zero": false}, "axis": null}
      }
    },
    {
      "data": {"name": "summ"},
      "mark": {"type": "circle", "size": 85, "color": "#B03060", "opacity": 1},
      "encoding": {
        "y": {"field": "mean", "type": "quantitative", "scale": {"domain": [-0.84, 10.81], "nice": false, "zero": false}, "axis": null}
      }
    }
  ],
  "resolve": {"axis": {"y": "independent"}}
}
